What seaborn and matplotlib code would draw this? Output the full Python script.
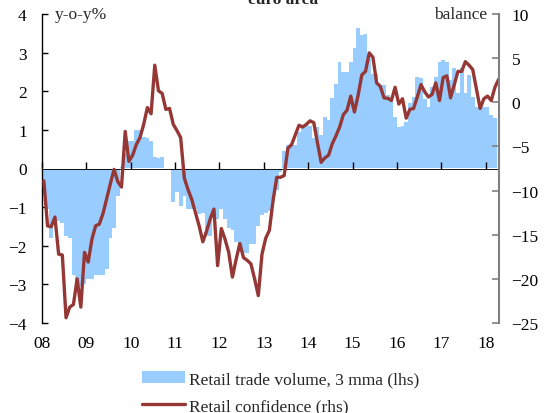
import numpy as np
import pandas as pd
import seaborn as sns
import matplotlib.pyplot as plt
from matplotlib.patches import Patch
from matplotlib.lines import Line2D

# monthly, Jan 2008 onwards
year_labels = ['08', '09', '10', '11', '12', '13', '14', '15', '16', '17', '18']

# retail trade volume, 3 mma, y-o-y % (lhs), Jan 2008 - Mar 2018
volume_3mma = [
    -0.7, -1.05, -1.8, -1.35, -1.35, -1.4, -1.75, -1.8, -2.75, -3.0, -3.05, -3.0,
    -2.85, -2.85, -2.75, -2.75, -2.75, -2.6, -1.8, -1.55, -0.7, 0.05, 0.4, 0.7,
    0.7, 1.0, 1.0, 0.82, 0.78, 0.7, 0.3, 0.28, 0.3, -0.05, 0.0, -0.87,
    -0.6, -0.97, -0.7, -1.05, -1.05, -1.05, -1.17, -1.15, -1.75, -1.75, -1.25, -1.3,
    -1.05, -1.3, -1.55, -1.6, -1.9, -2.15, -2.2, -2.2, -1.95, -1.95, -1.5, -1.2,
    -1.15, -1.1, -0.85, -0.55, -0.1, 0.45, 0.6, 0.6, 0.6, 0.95, 1.1, 1.15,
    1.1, 0.78, 1.08, 0.87, 1.34, 1.26, 1.82, 2.2, 2.75, 2.5, 2.5, 2.77,
    3.13, 3.64, 3.45, 3.48, 2.85, 2.45, 2.45, 2.15, 2.15, 1.9, 1.77, 1.34,
    1.08, 1.1, 1.2, 1.69, 1.85, 2.38, 2.35, 1.8, 1.6, 2.1, 2.38, 2.75,
    2.8, 2.75, 2.3, 2.6, 1.95, 2.6, 1.95, 2.42, 1.86, 1.6, 1.6, 1.6,
    1.6, 1.38, 1.3,
]

# retail confidence, balance (rhs), Jan 2008 - Apr 2018
confidence = [
    -8.9, -14.0, -14.1, -13.0, -17.2, -17.3, -24.4, -23.2, -22.9, -20.0, -23.2, -17.0,
    -18.1, -15.5, -14.0, -13.8, -12.6, -10.9, -9.2, -7.6, -9.0, -9.6, -3.3, -6.7,
    -6.0, -4.8, -4.0, -2.5, -0.6, -1.3, 4.2, 1.3, 1.0, -0.8, -0.7, -2.5,
    -3.2, -4.0, -8.6, -9.9, -11.0, -12.5, -14.0, -15.8, -14.6, -13.2, -12.1, -18.5,
    -14.3, -15.5, -17.0, -19.8, -17.8, -16.0, -17.6, -17.9, -18.3, -20.0, -21.9, -17.2,
    -15.4, -14.5, -11.1, -8.5, -8.5, -8.3, -5.2, -4.8, -3.7, -2.6, -2.8, -2.5,
    -2.1, -2.3, -4.6, -6.8, -6.3, -6.0, -4.7, -3.8, -2.8, -1.4, -0.9, 0.7,
    -1.1, 0.8, 3.1, 3.5, 5.6, 5.1, 2.2, 1.8, 0.5, 0.45, 0.2, 1.7,
    -0.2, 0.4, -1.8, -0.8, -0.7, 0.6, 2.0, 1.2, 0.6, 0.9, 2.2, 0.2,
    2.8, 3.0, 0.5, 2.0, 3.5, 3.5, 4.6, 4.2, 3.7, 1.5, -0.7, 0.4,
    0.7, 0.2, 1.7, 2.6,
]

BLUE = '#99CCFF'
RED = '#953735'
FS = 12.5

sns.set_theme(style='white')
plt.rcParams['font.family'] = ['Liberation Serif', 'DejaVu Serif']
plt.rcParams['font.size'] = FS

vol = pd.DataFrame({'month': np.arange(len(volume_3mma)), 'value': volume_3mma})
conf = pd.DataFrame({'month': np.arange(len(confidence)), 'value': confidence})

fig = plt.figure(figsize=(5.45, 4.14), dpi=100)
ax = fig.add_axes([42 / 545, 1 - 324 / 414, 457 / 545, 309 / 414])
sns.barplot(data=vol, x='month', y='value', native_scale=True, width=1,
            color=BLUE, saturation=1, linewidth=0, ax=ax)
ax.axhline(0, color='black', lw=1.3, zorder=3)

ax2 = ax.twinx()
sns.lineplot(data=conf, x='month', y='value', color=RED, lw=2.4, ax=ax2)

ax.set_xlim(-0.5, 123.1)
ax.set_ylim(-4, 4)
ax2.set_ylim(-25, 10)
ax.set_xlabel('')
ax.set_ylabel('')
ax2.set_ylabel('')

year_ticks = [12 * k - 0.5 for k in range(len(year_labels))]
ax.set_xticks(year_ticks, year_labels)
ax.tick_params(axis='x', length=0, pad=9, labelsize=FS, colors='black')
ax.set_yticks(range(-4, 5))
ax.tick_params(axis='y', left=True, direction='in', length=4, width=1, pad=11,
               labelsize=FS, colors='black')
ax2.set_yticks(range(-25, 11, 5))
ax2.tick_params(axis='y', right=True, direction='in', length=5, width=1.2, pad=9,
                labelsize=FS, color='#808080', labelcolor='black')

# small year ticks sitting on the zero line
sec = ax.secondary_xaxis(0, transform=ax.transData)
sec.set_xticks(year_ticks)
sec.tick_params(axis='x', bottom=True, direction='in', length=5, width=1,
                labelbottom=False, color='black')
sec.spines['bottom'].set_visible(False)
sec.set_zorder(5)

for s in ['top', 'bottom', 'right']:
    ax.spines[s].set_visible(False)
ax.spines['left'].set_color('black')
ax.spines['left'].set_linewidth(1)
for s in ['top', 'bottom', 'left']:
    ax2.spines[s].set_visible(False)
ax2.spines['right'].set_color('#808080')
ax2.spines['right'].set_linewidth(1.5)

ax.text(0.028, 1.0, 'y-o-y%', transform=ax.transAxes, ha='left', va='center', fontsize=FS)
ax.text(0.974, 1.0, 'balance', transform=ax.transAxes, ha='right', va='center', fontsize=FS)
fig.text(0.52, 1 - 4 / 414, 'euro area', ha='center', va='baseline',
         fontsize=FS, fontweight='bold')

handles = [Patch(facecolor=BLUE, edgecolor='none'), Line2D([], [], color=RED, lw=2.4)]
labels = ['Retail trade volume, 3 mma (lhs)', 'Retail confidence (rhs)']
fig.legend(handles, labels, loc='upper center', bbox_to_anchor=(0.515, 1 - 372 / 414),
           frameon=False, handlelength=2.5, handletextpad=0.25, labelspacing=0.62,
           borderpad=0, borderaxespad=0, fontsize=FS)

fig.savefig('out.png', dpi=100)
